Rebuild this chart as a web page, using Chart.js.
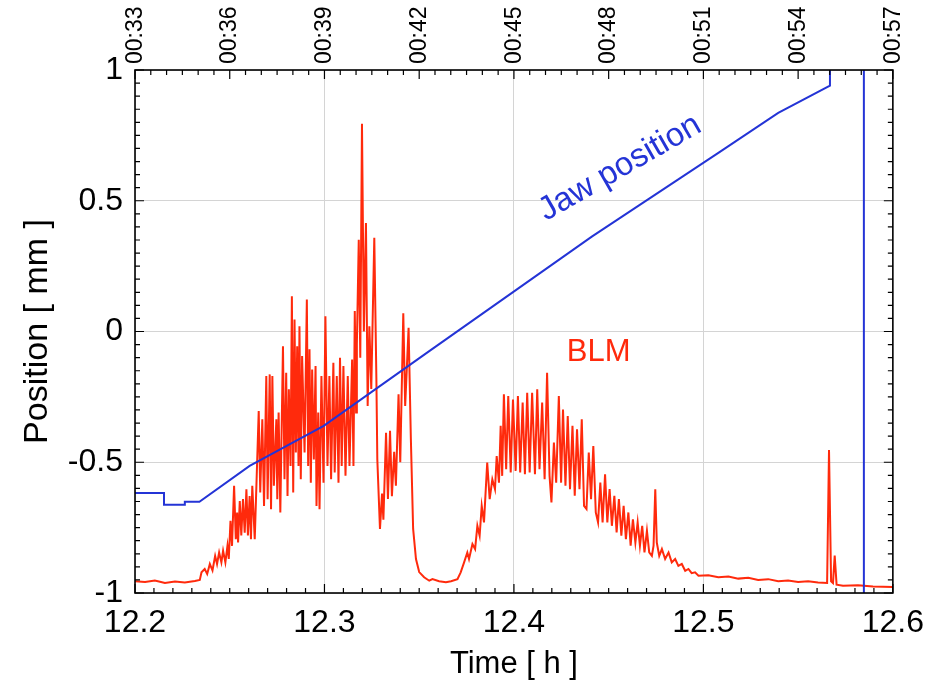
<!DOCTYPE html>
<html>
<head>
<meta charset="utf-8">
<script src="https://cdn.jsdelivr.net/npm/chart.js@4.4.1/dist/chart.umd.min.js"></script>
<style>
  html, body { margin: 0; padding: 0; background: #fff; }
  canvas { display: block; }
</style>
</head>
<body>
<canvas id="chart" width="935" height="683"></canvas>
<script>
// tick labels
const xTickLabels = ['12.2', '12.3', '12.4', '12.5', '12.6'];
const topTickLabels = ['00:33', '00:36', '00:39', '00:42', '00:45', '00:48', '00:51', '00:54', '00:57'];
const yTickLabels = ['-1', '-0.5', '0', '0.5', '1'];

// jaw position [mm] vs time [h]
const jawPoints = [
  [12.2, -0.618], [12.2153, -0.618], [12.2153, -0.663], [12.2263, -0.663], [12.2263, -0.651],
  [12.234, -0.651], [12.2605, -0.514], [12.2996, -0.361], [12.3553, -0.075], [12.4411, 0.363],
  [12.5079, 0.683], [12.5395, 0.836], [12.5668, 0.94], [12.5668, 1.3], [12.5847, 1.3], [12.5847, -1.3]
];

// BLM signal (scaled to the same axis) vs time [h]
const blmPoints = [
  [12.2000, -0.955], [12.2053, -0.958], [12.2105, -0.952], [12.2158, -0.962], [12.2211, -0.956],
  [12.2263, -0.960], [12.2316, -0.954], [12.2342, -0.950],
  [12.2351, -0.921], [12.2368, -0.908], [12.2381, -0.927], [12.2395, -0.889], [12.2409, -0.914],
  [12.2423, -0.858], [12.2433, -0.889], [12.2444, -0.845], [12.2456, -0.883], [12.2465, -0.838],
  [12.2477, -0.883], [12.2488, -0.820], [12.2495, -0.870],
  [12.2504, -0.724], [12.2512, -0.820], [12.2523, -0.590], [12.2532, -0.794], [12.2539, -0.692],
  [12.2544, -0.807], [12.2553, -0.648], [12.2561, -0.780], [12.2570, -0.641], [12.2579, -0.769],
  [12.2588, -0.603], [12.2596, -0.780], [12.2605, -0.629], [12.2612, -0.794], [12.2619, -0.590],
  [12.2632, -0.794],
  [12.2653, -0.304], [12.2661, -0.616], [12.2672, -0.336], [12.2681, -0.667], [12.2693, -0.170],
  [12.2700, -0.641], [12.2711, -0.164], [12.2718, -0.680], [12.2725, -0.170], [12.2733, -0.590],
  [12.2746, -0.336], [12.2751, -0.641], [12.2758, -0.310], [12.2767, -0.692], [12.2781, -0.056],
  [12.2789, -0.565], [12.2798, -0.158], [12.2805, -0.629], [12.2812, -0.221], [12.2821, -0.514],
  [12.2828, 0.135], [12.2835, -0.616], [12.2842, 0.046], [12.2849, -0.463], [12.2856, -0.056],
  [12.2863, -0.514], [12.2868, 0.020], [12.2875, -0.565], [12.2882, -0.094], [12.2895, -0.463],
  [12.2907, 0.122], [12.2914, -0.514], [12.2921, -0.068], [12.2928, -0.578], [12.2935, -0.145],
  [12.2944, -0.489], [12.2953, -0.132], [12.2958, -0.667], [12.2967, -0.310], [12.2974, -0.680],
  [12.2984, -0.170], [12.2995, -0.578], [12.3005, 0.058], [12.3016, -0.514], [12.3026, -0.170],
  [12.3035, -0.565], [12.3047, -0.120], [12.3054, -0.539], [12.3065, -0.170], [12.3074, -0.578],
  [12.3082, -0.100], [12.3091, -0.514], [12.3100, -0.132], [12.3111, -0.552], [12.3123, -0.170],
  [12.3132, -0.514], [12.3146, -0.107], [12.3153, -0.514], [12.3160, 0.078], [12.3167, -0.310],
  [12.3171, -0.050], [12.3181, 0.351], [12.3189, -0.100], [12.3198, 0.794], [12.3208, 0.000],
  [12.3219, 0.415], [12.3228, -0.285], [12.3237, 0.020], [12.3247, -0.220], [12.3263, 0.358],
  [12.3274, -0.180], [12.3279, -0.490], [12.3293, -0.755], [12.3304, -0.620], [12.3311, -0.720],
  [12.3325, -0.387], [12.3335, -0.640], [12.3346, -0.380], [12.3356, -0.630], [12.3368, -0.460],
  [12.3377, -0.590], [12.3391, -0.240], [12.3400, -0.500], [12.3416, 0.070], [12.3426, -0.285],
  [12.3444, 0.014], [12.3456, -0.410], [12.3468, -0.755], [12.3483, -0.870], [12.3500, -0.920],
  [12.3526, -0.940], [12.3553, -0.953],
  [12.3570, -0.947], [12.3605, -0.955], [12.3641, -0.959], [12.3668, -0.955], [12.3702, -0.947],
  [12.3719, -0.921], [12.3737, -0.883], [12.3754, -0.845], [12.3763, -0.870], [12.3781, -0.813],
  [12.3795, -0.832], [12.3807, -0.743], [12.3819, -0.781], [12.3830, -0.667], [12.3842, -0.730],
  [12.3859, -0.501], [12.3872, -0.641], [12.3886, -0.565], [12.3900, -0.603], [12.3909, -0.476],
  [12.3921, -0.578], [12.3930, -0.361], [12.3938, -0.552], [12.3947, -0.240], [12.3959, -0.527],
  [12.3970, -0.247], [12.3983, -0.539], [12.3995, -0.260], [12.4009, -0.533], [12.4021, -0.247],
  [12.4033, -0.539], [12.4046, -0.272], [12.4058, -0.546], [12.4070, -0.234], [12.4083, -0.539],
  [12.4096, -0.234], [12.4111, -0.546], [12.4123, -0.221], [12.4135, -0.527], [12.4149, -0.272],
  [12.4162, -0.565], [12.4175, -0.158], [12.4188, -0.552], [12.4198, -0.654], [12.4211, -0.425],
  [12.4223, -0.578], [12.4237, -0.247], [12.4249, -0.578], [12.4259, -0.298], [12.4272, -0.590],
  [12.4284, -0.323], [12.4296, -0.603], [12.4309, -0.361], [12.4321, -0.628], [12.4333, -0.374],
  [12.4346, -0.603], [12.4358, -0.336], [12.4370, -0.667], [12.4383, -0.679], [12.4395, -0.463],
  [12.4407, -0.641], [12.4419, -0.438], [12.4432, -0.692], [12.4444, -0.730], [12.4456, -0.578],
  [12.4468, -0.730], [12.4481, -0.546], [12.4493, -0.730], [12.4505, -0.603], [12.4517, -0.743],
  [12.4530, -0.628], [12.4542, -0.768], [12.4554, -0.641], [12.4567, -0.781], [12.4579, -0.667],
  [12.4591, -0.794], [12.4604, -0.692], [12.4616, -0.819], [12.4628, -0.718], [12.4641, -0.807],
  [12.4653, -0.730], [12.4665, -0.819], [12.4677, -0.743], [12.4689, -0.845], [12.4702, -0.762],
  [12.4714, -0.845], [12.4728, -0.858], [12.4737, -0.819], [12.4746, -0.603], [12.4754, -0.807],
  [12.4767, -0.858], [12.4781, -0.832], [12.4798, -0.870], [12.4816, -0.845], [12.4833, -0.883],
  [12.4851, -0.870], [12.4868, -0.896], [12.4886, -0.889], [12.4904, -0.915], [12.4921, -0.908],
  [12.4938, -0.924], [12.4956, -0.921], [12.4974, -0.934],
  [12.5026, -0.932], [12.5079, -0.940], [12.5132, -0.937], [12.5184, -0.945], [12.5237, -0.942],
  [12.5289, -0.950], [12.5342, -0.947], [12.5395, -0.955], [12.5447, -0.952], [12.5500, -0.958],
  [12.5553, -0.955], [12.5605, -0.960], [12.5653, -0.962], [12.5663, -0.453], [12.5674, -0.955],
  [12.5684, -0.962], [12.5693, -0.857], [12.5703, -0.968], [12.5737, -0.972], [12.5816, -0.970],
  [12.5895, -0.975], [12.6000, -0.977]
];

const BLUE = '#2434d6';
const RED = '#ff2a0c';
const FONT = '"Liberation Sans", Arial, Helvetica, sans-serif';

Chart.defaults.font.family = FONT;
Chart.defaults.color = '#000';

// box frame, inward minor/major ticks and the two in-plot labels
const frameAndNotes = {
  id: 'frameAndNotes',
  afterDraw(chart) {
    const { ctx, chartArea: a } = chart;
    const xs = chart.scales.x;
    const ys = chart.scales.y;
    ctx.save();
    ctx.strokeStyle = '#000';
    ctx.lineWidth = 1.2;
    ctx.beginPath();
    for (let i = 0; i <= 40; i++) {
      const px = xs.getPixelForValue(12.2 + i * 0.01);
      const len = i % 10 === 0 ? 9 : 5;
      ctx.moveTo(px, a.bottom);
      ctx.lineTo(px, a.bottom - len);
    }
    for (let i = 0; i <= 48; i++) {
      const px = xs.getPixelForValue(12.2 + i / 120);
      const len = i % 6 === 0 ? 9 : 5;
      ctx.moveTo(px, a.top);
      ctx.lineTo(px, a.top + len);
    }
    for (let i = 0; i <= 40; i++) {
      const py = ys.getPixelForValue(-1 + i * 0.05);
      const len = i % 10 === 0 ? 9 : 5;
      ctx.moveTo(a.left, py);
      ctx.lineTo(a.left + len, py);
      ctx.moveTo(a.right, py);
      ctx.lineTo(a.right - len, py);
    }
    ctx.stroke();
    ctx.lineWidth = 1.6;
    ctx.strokeRect(a.left, a.top, a.right - a.left, a.bottom - a.top);

    ctx.textAlign = 'center';
    ctx.textBaseline = 'middle';
    ctx.font = '31px ' + FONT;
    ctx.fillStyle = RED;
    ctx.fillText('BLM', xs.getPixelForValue(12.4447), ys.getPixelForValue(-0.08));

    ctx.translate(xs.getPixelForValue(12.456), ys.getPixelForValue(0.625));
    ctx.rotate(-30 * Math.PI / 180);
    ctx.font = '33px ' + FONT;
    ctx.fillStyle = BLUE;
    ctx.fillText('Jaw position', 0, 0);
    ctx.restore();
  }
};

const toXY = pts => pts.map(([x, y]) => ({ x, y }));

new Chart(document.getElementById('chart'), {
  type: 'scatter',
  data: {
    datasets: [
      {
        label: 'Jaw position',
        data: toXY(jawPoints),
        showLine: true,
        borderColor: BLUE,
        borderWidth: 2,
        pointRadius: 0,
        tension: 0,
      },
      {
        label: 'BLM',
        data: toXY(blmPoints),
        showLine: true,
        borderColor: RED,
        borderWidth: 2,
        pointRadius: 0,
        tension: 0,
      },
    ],
  },
  options: {
    responsive: false,
    animation: false,
    events: [],
    layout: { padding: { right: 41 } },
    plugins: {
      legend: { display: false },
      tooltip: { enabled: false },
    },
    scales: {
      x: {
        type: 'linear',
        position: 'bottom',
        min: 12.2,
        max: 12.6,
        afterFit: s => { s.height = 90; },
        ticks: {
          stepSize: 0.1,
          font: { size: 32 },
          color: '#000',
          padding: 11,
          maxRotation: 0,
          callback: (v, i) => xTickLabels[i],
        },
        grid: { color: '#d4d4d4', drawTicks: false },
        border: { display: false },
        title: { display: true, text: 'Time [ h ]', font: { size: 31 }, color: '#000', padding: 0 },
      },
      xTop: {
        type: 'linear',
        axis: 'x',
        position: 'top',
        min: 12.2,
        max: 12.6,
        afterFit: s => { s.height = 70; },
        ticks: {
          stepSize: 0.05,
          font: { size: 23 },
          color: '#000',
          padding: 6,
          labelOffset: 28,
          minRotation: 90,
          maxRotation: 90,
          autoSkip: false,
          callback: (v, i) => topTickLabels[i],
        },
        grid: { display: false, drawTicks: false },
        border: { display: false },
      },
      y: {
        min: -1,
        max: 1,
        afterFit: s => { s.width = 135; },
        ticks: {
          stepSize: 0.5,
          font: { size: 32 },
          color: '#000',
          padding: 12,
          callback: (v, i) => yTickLabels[i],
        },
        grid: { color: '#d4d4d4', drawTicks: false },
        border: { display: false },
        title: { display: true, text: 'Position [ mm ]', font: { size: 34 }, color: '#000', padding: { top: 17 } },
      },
    },
  },
  plugins: [frameAndNotes],
});
</script>
</body>
</html>
